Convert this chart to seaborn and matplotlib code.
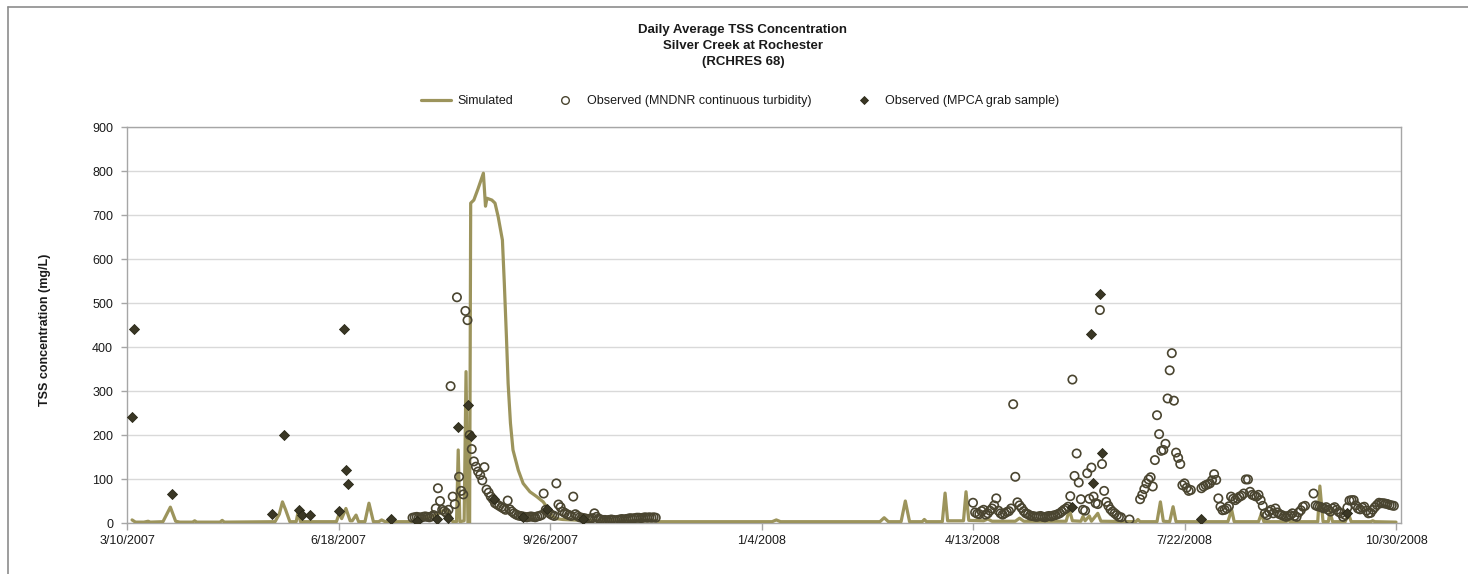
import numpy as np
import pandas as pd
import matplotlib
matplotlib.use("Agg")
import matplotlib.pyplot as plt
import seaborn as sns
from matplotlib.lines import Line2D
from matplotlib import font_manager

sns.set_theme(style="white")
_names = {f.name for f in font_manager.fontManager.ttflist}
NARROW = "Liberation Sans Narrow" in _names
if NARROW:
    plt.rcParams['font.family'] = ['Liberation Sans Narrow', 'Liberation Sans', 'DejaVu Sans']
    FS_TICK, FS_LEG, FS_TITLE, FS_YL = 10.5, 10.5, 11, 10.5
else:
    plt.rcParams['font.family'] = ['Liberation Sans', 'DejaVu Sans']
    FS_TICK, FS_LEG, FS_TITLE, FS_YL = 9, 9, 9.5, 9

# ---------------- data ----------------
title_lines = ["Daily Average TSS Concentration", "Silver Creek at Rochester", "(RCHRES 68)"]
y_label = "TSS concentration (mg/L)"
legend_labels = ["Simulated", "Observed (MNDNR continuous turbidity)", "Observed (MPCA grab sample)"]
tick_days = [0, 100, 200, 300, 400, 500, 600]          # days after 3/10/2007
tick_labels = ["3/10/2007", "6/18/2007", "9/26/2007", "1/4/2008", "4/13/2008", "7/22/2008", "10/30/2008"]
y_ticks = [0, 100, 200, 300, 400, 500, 600, 700, 800, 900]

# simulated TSS (vertices of the daily line), day offset from 3/10/2007
sim_days = [2.4, 4, 8, 10, 11, 17, 20.5, 23, 25, 31, 32, 33, 44, 45, 46, 70, 72, 73.5, 75, 77,
            80, 81, 82, 99, 100.4, 101.5, 103.5, 105.5, 106.5, 108.3, 109.5, 112.5, 114.4, 116.5,
            119, 120.4, 122, 134, 137, 142, 147, 150, 152, 154, 155.8, 156.6, 157.4, 159.4, 160.3,
            161.2, 162.0, 162.5, 164, 166, 168.5, 169.5, 170.2, 172.5, 174, 175.5, 177.5, 178.4,
            179.4, 180.2, 181.3, 182.5, 185, 187.3, 190.5, 193.7, 196.8, 198.4, 200, 201.6, 203,
            206, 215, 230, 250, 252, 305, 307, 309, 356, 358, 360, 366, 368, 370, 376, 377, 378,
            385.5, 386.8, 388, 395.5, 396.7, 398, 405, 407, 409, 420, 422, 424, 444, 445.6, 447,
            451, 452, 453, 455, 456, 459, 460.5, 477, 478, 479, 487, 488.6, 490, 493, 494.6, 496,
            520.5, 522.3, 523.5, 535, 536.4, 537.5, 548, 549, 550, 563, 564, 565.5, 568, 568.8,
            570, 576, 577.5, 578.8, 588, 589, 590, 600]
sim_vals = [7, 2, 2, 4, 2, 3, 36, 4, 2, 2, 5, 2, 2, 6, 2, 3, 20, 48, 30, 3,
            3, 28, 3, 3, 22, 10, 33, 5, 5, 18, 3, 3, 45, 3,
            3, 7, 3, 3, 8, 12, 20, 30, 25, 3, 3, 166, 3, 5, 344,
            0, 0, 727, 734, 760, 795, 720, 738, 734, 727, 696, 643, 545,
            423, 317, 227, 166, 120, 90, 71, 60, 48, 37, 22, 14, 10,
            8, 6, 5, 5, 3, 3, 7, 3, 3, 12, 3, 3, 50, 3, 3, 8, 3,
            3, 68, 5, 5, 71, 6, 5, 9, 4, 4, 11, 4, 4, 30, 5,
            4, 15, 5, 16, 4, 22, 4, 3, 8, 3, 3, 48, 4, 3, 37, 3,
            3, 30, 3, 3, 22, 3, 3, 6, 3, 3, 84, 3, 3, 26,
            3, 3, 22, 3, 3, 5, 3, 2]

# MNDNR continuous turbidity (daily)
mndnr_days = (list(range(135, 251)) + list(range(400, 471)) + [474] + list(range(479, 504))
              + list(range(508, 558)) + list(range(561, 600)))
mndnr_vals = [12, 13, 14, 13, 12, 14, 15, 14, 13, 15,
              18, 33, 79, 50, 30, 27, 23, 30, 311, 60,
              43, 513, 105, 73, 65, 482, 461, 200, 168, 140,
              128, 117, 109, 97, 127, 76, 69, 60, 54, 45,
              42, 39, 36, 33, 30, 51, 31, 26, 22, 19,
              17, 16, 15, 14, 13, 14, 15, 14, 13, 15,
              16, 18, 67, 30, 25, 21, 18, 16, 90, 42,
              36, 26, 23, 20, 18, 16, 60, 20, 16, 13,
              12, 11, 10, 9, 10, 11, 22, 14, 10, 8,
              7, 7, 6, 7, 8, 7, 6, 7, 8, 9,
              8, 9, 10, 11, 10, 11, 12, 12, 11, 12,
              13, 12, 13, 12, 13, 12,
              # 2008
              46, 24, 21, 20, 27, 30, 19, 22, 28, 33,
              40, 56, 28, 22, 19, 22, 25, 27, 33, 270,
              105, 47, 40, 34, 27, 22, 20, 17, 16, 15,
              14, 15, 16, 14, 13, 15, 16, 15, 17, 18,
              20, 22, 26, 30, 33, 37, 61, 326, 107, 158,
              92, 54, 30, 28, 113, 55, 126, 60, 45, 43,
              484, 134, 73, 48, 39, 31, 26, 22, 18, 14,
              13,
              8,
              54, 64, 77, 90, 99, 104, 83, 143, 245, 202, 164, 166, 180, 283, 347, 386, 278, 160,
              148, 134, 86, 90, 80, 73, 75,
              79, 83, 86, 88, 90, 97, 111, 98, 56, 37,
              29, 30, 33, 38, 60, 55, 52, 56, 60, 62,
              67, 99, 99, 71, 64, 62, 60, 64, 52, 39,
              22, 18, 26, 30, 22, 33, 24, 20, 18, 16,
              14, 16, 18, 22, 16, 14, 24, 29, 37, 39,
              67,
              40, 38, 37, 35, 33, 36, 30, 26, 33, 36,
              30, 25, 22, 14, 18, 35, 51, 52, 52, 40,
              33, 31, 35, 37, 28, 22, 23, 30, 36, 41,
              46, 45, 45, 44, 43, 41, 40, 39]

# MPCA grab samples
mpca_days = [2.4, 3.5, 21.3, 68.4, 74.2, 81.5, 82.6, 86.4, 100.4, 102.7, 103.7, 104.6, 124.7,
             137.1, 146.5, 151.6, 156.6, 161.4, 162.5, 173.5, 187.4, 198.6, 215.5,
             446.8, 455.6, 456.7, 459.9, 460.8, 507.6, 576.8]
mpca_vals = [240, 440, 66, 20, 200, 30, 18, 19, 28, 440, 120, 88, 9,
             5, 10, 11, 218, 268, 198, 54, 14, 32, 8,
             37, 430, 90, 520, 160, 10, 23]

# ---------------- styling ----------------
LINE_C = "#9c945c"
CIRC_C = "#4a4530"
DIAM_C = "#3a3725"
GRID_C = "#d9d9d9"
AX_C = "#a6a6a6"
TXT_C = "#1a1a1a"

W, H = 1468, 574
fig = plt.figure(figsize=(W / 100, H / 100), dpi=100)
fig.patch.set_facecolor("white")

L, R, T, B = 127, 1401, 127, 523
ax = fig.add_axes([L / W, 1 - B / H, (R - L) / W, (B - T) / H])

sim_df = pd.DataFrame({"day": sim_days, "val": sim_vals})
mndnr_df = pd.DataFrame({"day": mndnr_days, "val": mndnr_vals})
mpca_df = pd.DataFrame({"day": mpca_days, "val": mpca_vals})

sns.lineplot(data=sim_df, x="day", y="val", ax=ax, color=LINE_C, linewidth=2.3,
             estimator=None, sort=False, zorder=3, legend=False)
sns.scatterplot(data=mndnr_df, x="day", y="val", ax=ax, marker="o", s=36,
                facecolor="none", edgecolor=CIRC_C, linewidth=1.2, zorder=4, legend=False)
sns.scatterplot(data=mpca_df, x="day", y="val", ax=ax, marker="D", s=26,
                color=DIAM_C, edgecolor="#2a2818", linewidth=0.6, zorder=5, legend=False)

ax.set_xlim(0, (R - L) / 2.115)
ax.set_ylim(0, 900)
ax.set_xticks(tick_days)
ax.set_xticklabels(tick_labels)
ax.set_yticks(y_ticks)
ax.set_xlabel("")
ax.set_ylabel("")
ax.grid(axis="y", color=GRID_C, linewidth=1.0)
ax.grid(axis="x", visible=False)
ax.set_axisbelow(True)
for sp in ax.spines.values():
    sp.set_visible(True)
    sp.set_color(AX_C)
    sp.set_linewidth(1.0)
ax.tick_params(axis="x", direction="out", length=5, width=1, color=AX_C,
               labelsize=FS_TICK, labelcolor=TXT_C, pad=4, bottom=True)
ax.tick_params(axis="y", direction="out", length=4, width=1, color=AX_C,
               labelsize=FS_TICK, labelcolor=TXT_C, pad=6, left=True)

# titles and labels
fig.text(743 / W, 1 - 46 / H, "\n".join(title_lines), ha="center", va="center",
         fontsize=FS_TITLE, fontweight="bold", color=TXT_C, linespacing=1.45)
fig.text(45 / W, 1 - 330 / H, y_label, rotation=90, ha="center", va="center",
         fontsize=FS_YL, fontweight="bold", color=TXT_C)

handles = [
    Line2D([0], [0], color=LINE_C, lw=2.3),
    Line2D([0], [0], marker="o", linestyle="none", markersize=5.5, markerfacecolor="none",
           markeredgecolor=CIRC_C, markeredgewidth=1.0),
    Line2D([0], [0], marker="D", linestyle="none", markersize=4.5, markerfacecolor=DIAM_C,
           markeredgecolor="#2a2818", markeredgewidth=0.6),
]
fig.legend(handles, legend_labels, loc="center", bbox_to_anchor=(740 / W, 1 - 101 / H),
           ncol=3, frameon=False, fontsize=FS_LEG, handlelength=2.4, handletextpad=0.5,
           columnspacing=3.0, labelcolor=TXT_C)

# chart area border (top and left)
fig.add_artist(Line2D([8 / W, 8 / W], [0, 1 - 7 / H], transform=fig.transFigure,
                      color="#8c8c8c", lw=1.2))
fig.add_artist(Line2D([8 / W, 1], [1 - 7 / H, 1 - 7 / H], transform=fig.transFigure,
                      color="#8c8c8c", lw=1.2))

fig.savefig("out.png", dpi=100, facecolor="white")
